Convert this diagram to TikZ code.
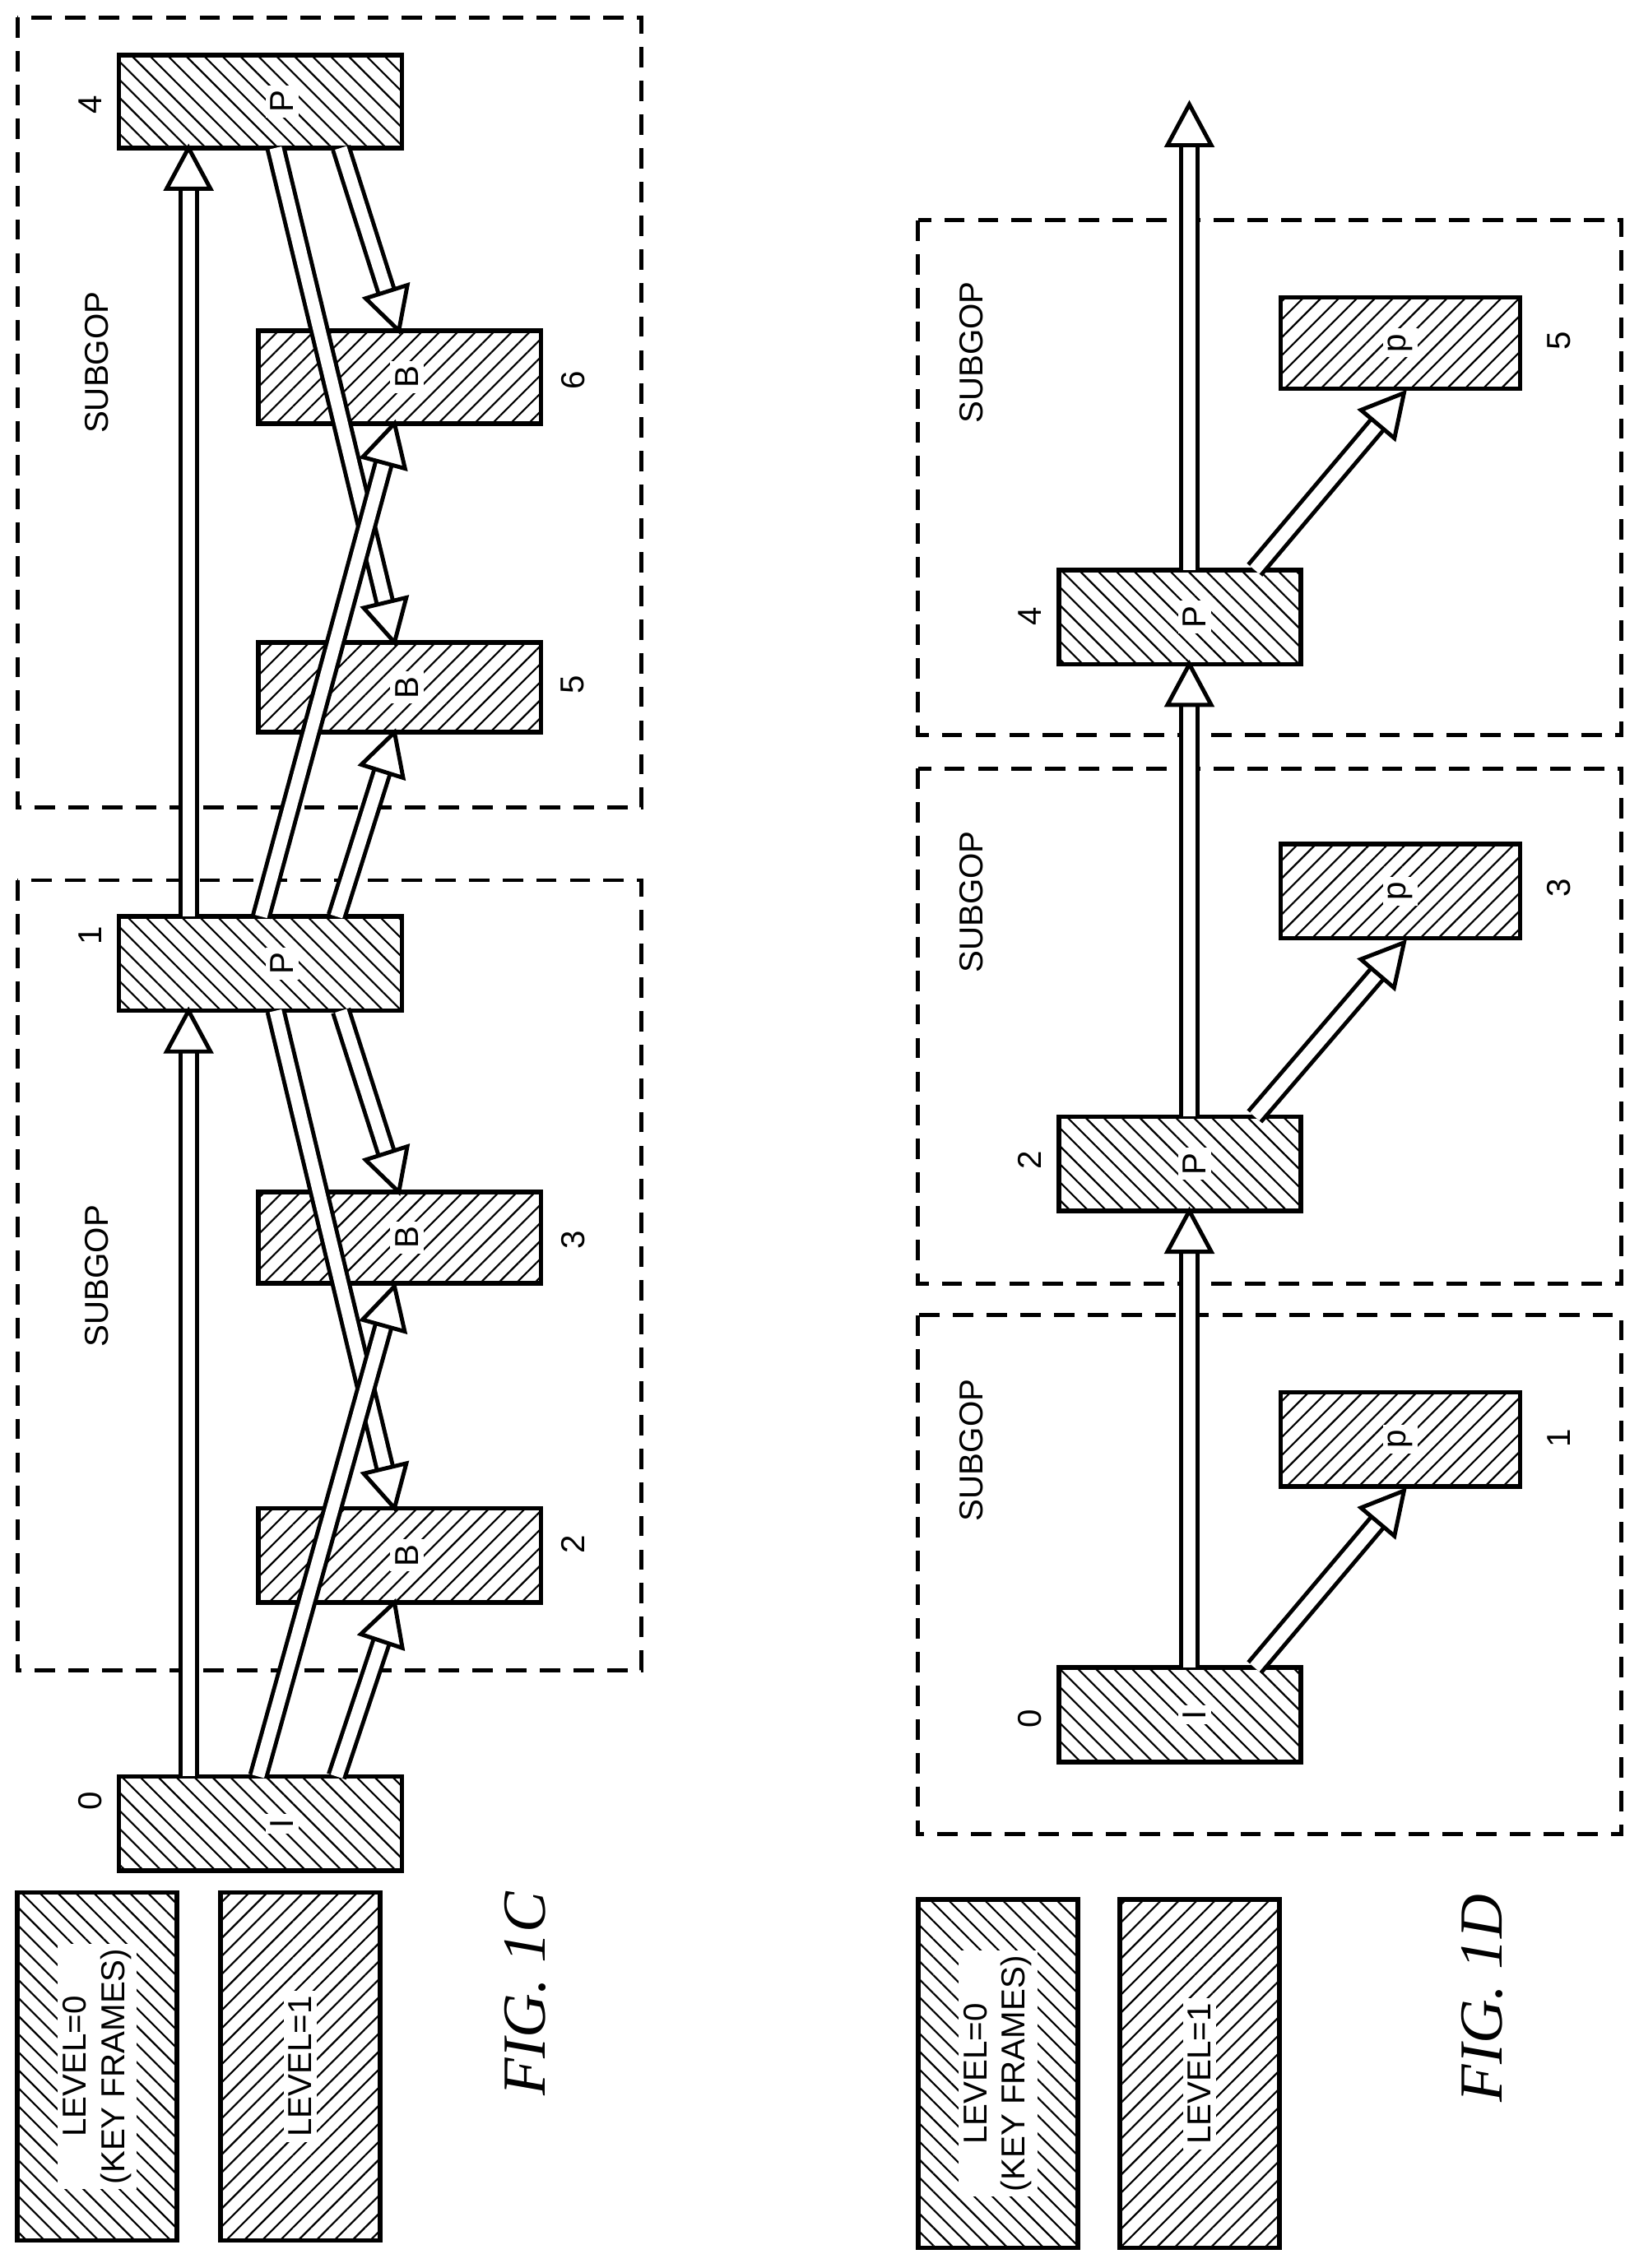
\documentclass[tikz,border=0pt]{standalone}
\usepackage{fontspec}
\setmainfont{Liberation Serif}
\setsansfont{Liberation Sans}
\usetikzlibrary{calc,patterns.meta}
\tikzset{
  x=0.01cm,y=-0.01cm,
  kf/.style={draw,line width=0.9pt,pattern={Lines[angle=-45,distance=2.5pt,line width=0.35pt]}},
  lv/.style={draw,line width=0.9pt,pattern={Lines[angle=45,distance=2.5pt,line width=0.35pt]}},
  grp/.style={draw,line width=0.8pt,dash pattern=on 4pt off 2.6pt},
  lbl/.style={font=\sffamily\fontsize{6.5}{7.5}\selectfont,rotate=90,align=center,inner sep=0pt},
  wl/.style={lbl,fill=white,inner sep=1pt},
  fig/.style={font=\rmfamily\itshape\fontsize{12}{14}\selectfont,rotate=90,inner sep=0pt},
  shaft/.style={line width=0.8pt,double=white,double distance=2.4pt},
  head/.style={draw,fill=white,line width=0.8pt,line join=miter}
}
\newcommand\harr[2]{%
  \draw[shaft] (#1) -- ($(#2)!6pt!(#1)$);
  \path[head] (#2) -- ($($(#2)!8pt!(#1)$)!4.3pt!90:(#1)$) -- ($($(#2)!8pt!(#1)$)!4.3pt!-90:(#1)$) -- cycle;}
\newcommand\bx[6]{\draw[#6] (#2,#3) rectangle (#4,#5);
  \coordinate (#1) at ({(#2+#4)/2},{(#3+#5)/2});}
\begin{document}
\begin{tikzpicture}
\useasboundingbox (0,0) rectangle (1130,1564);
% ---------- FIG 1C ----------
\draw[grp] (12,607) rectangle (442,1152);
\draw[grp] (12,12) rectangle (442,557);
\node[lbl] (sg1) at (67,880) {SUBGOP};
\node[lbl] (sg2) at (67,250) {SUBGOP};
\bx{I}{82}{1225}{277}{1290}{kf}
\bx{P1}{82}{632}{277}{697}{kf}
\bx{P4}{82}{38}{277}{102}{kf}
\bx{B2}{178}{1040}{373}{1105}{lv}
\bx{B3}{178}{822}{373}{885}{lv}
\bx{B5}{178}{443}{373}{505}{lv}
\bx{B6}{178}{228}{373}{292}{lv}
\node[lbl] at (62,1242) {0};
\node[lbl] at (62,645) {1};
\node[lbl] at (62,72) {4};
\node[lbl] at (395,1065) {2};
\node[lbl] at (395,855) {3};
\node[lbl] at (395,472) {5};
\node[lbl] at (395,262) {6};
\coordinate (a1) at (130,1225); \coordinate (a2) at (130,697);
\coordinate (a3) at (130,632); \coordinate (a4) at (130,102);
\harr{a1}{a2}\harr{a3}{a4}
\coordinate (s1) at (178,1225); \coordinate (e1) at (272,887);
\coordinate (s2) at (232,1225); \coordinate (e2) at (272,1105);
\coordinate (s3) at (190,697); \coordinate (e3) at (272,1040);
\coordinate (s4) at (235,697); \coordinate (e4) at (275,822);
\coordinate (s5) at (180,632); \coordinate (e5) at (272,292);
\coordinate (s6) at (232,632); \coordinate (e6) at (272,505);
\coordinate (s7) at (190,102); \coordinate (e7) at (272,443);
\coordinate (s8) at (235,102); \coordinate (e8) at (275,228);
\harr{s3}{e3}\harr{s4}{e4}\harr{s7}{e7}\harr{s8}{e8}
\harr{s1}{e1}\harr{s2}{e2}\harr{s5}{e5}\harr{s6}{e6}
\node[wl] at ($(I)+(15,0)$) {I};
\node[wl] at ($(P1)+(15,0)$) {P};
\node[wl] at ($(P4)+(15,0)$) {P};
\node[wl] at ($(B2)+(5,0)$) {B};
\node[wl] at ($(B3)+(5,0)$) {B};
\node[wl] at ($(B5)+(5,0)$) {B};
\node[wl] at ($(B6)+(5,0)$) {B};
% legend 1C
\bx{L0}{12}{1305}{122}{1545}{kf}
\bx{L1}{152}{1305}{262}{1545}{lv}
\node[wl] at (L0) {LEVEL=0\\(KEY FRAMES)};
\node[wl] at (L1) {LEVEL=1};
\node[fig] at (362,1375) {FIG. 1C};
% ---------- FIG 1D ----------
\draw[grp] (633,907) rectangle (1118,1265);
\draw[grp] (633,530) rectangle (1118,885);
\draw[grp] (633,152) rectangle (1118,507);
\node[lbl] at (670,1000) {SUBGOP};
\node[lbl] at (670,622) {SUBGOP};
\node[lbl] at (670,243) {SUBGOP};
\bx{dI}{730}{1150}{897}{1215}{kf}
\bx{dP2}{730}{770}{897}{835}{kf}
\bx{dP4}{730}{393}{897}{458}{kf}
\bx{dp1}{883}{960}{1048}{1025}{lv}
\bx{dp3}{883}{582}{1048}{647}{lv}
\bx{dp5}{883}{205}{1048}{268}{lv}
\node[lbl] at (710,1185) {0};
\node[lbl] at (710,800) {2};
\node[lbl] at (710,425) {4};
\node[lbl] at (1075,992) {1};
\node[lbl] at (1075,612) {3};
\node[lbl] at (1075,235) {5};
\coordinate (d1) at (820,1150); \coordinate (d2) at (820,835);
\coordinate (d3) at (820,770); \coordinate (d4) at (820,458);
\coordinate (d5) at (820,393); \coordinate (d6) at (820,72);
\harr{d1}{d2}\harr{d3}{d4}\harr{d5}{d6}
\coordinate (f1) at (865,1150); \coordinate (g1) at (968,1028);
\coordinate (f2) at (865,770); \coordinate (g2) at (968,650);
\coordinate (f3) at (865,393); \coordinate (g3) at (968,271);
\harr{f1}{g1}\harr{f2}{g2}\harr{f3}{g3}
\node[wl] at ($(dI)+(10,0)$) {I};
\node[wl] at ($(dP2)+(10,0)$) {P};
\node[wl] at ($(dP4)+(10,0)$) {P};
\node[wl] at (dp1) {p};
\node[wl] at (dp3) {p};
\node[wl] at (dp5) {p};
\bx{M0}{633}{1310}{743}{1550}{kf}
\bx{M1}{772}{1310}{882}{1550}{lv}
\node[wl] at (M0) {LEVEL=0\\(KEY FRAMES)};
\node[wl] at (M1) {LEVEL=1};
\node[fig] at (1022,1378) {FIG. 1D};
\end{tikzpicture}
\end{document}
